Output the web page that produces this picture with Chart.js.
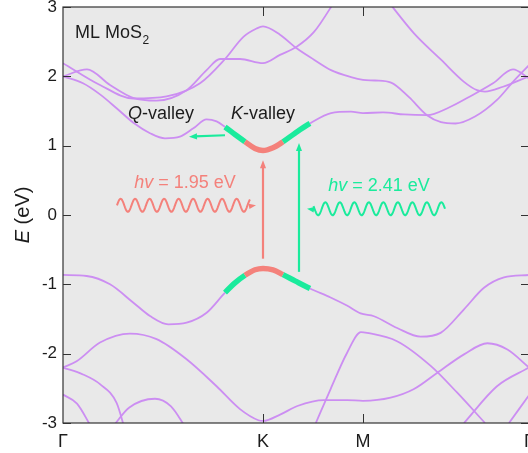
<!DOCTYPE html>
<html>
<head>
<meta charset="utf-8">
<script src="https://cdn.jsdelivr.net/npm/chart.js@4.4.0/dist/chart.umd.min.js"></script>
<style>
  html, body { margin: 0; padding: 0; background: #fff; overflow: hidden; }
  #wrap { width: 536px; height: 453px; }
</style>
</head>
<body>
<div id="wrap"><canvas id="bands" width="536" height="453"></canvas></div>
<script>
// high-symmetry path (k in units of |ΓK|)
const kNodes = [0, 1, 1.5, 2.33];
const kNames = ['Γ', 'K', 'M', 'Γ'];

// conduction bands, [k, E (eV)]
const cb1 = [[0,2.0],[0.1,1.90],[0.185,1.74],[0.268,1.54],[0.352,1.33],[0.435,1.18],[0.51,1.106],[0.585,1.13],[0.652,1.25],[0.718,1.38],[0.768,1.35],[0.81,1.27],[0.86,1.16],[0.91,1.057],[0.96,0.96],[1.0,0.93],[1.05,0.97],[1.10,1.057],[1.16,1.18],[1.235,1.32],[1.34,1.47],[1.44,1.49],[1.5,1.47],[1.6,1.48],[1.705,1.45],[1.82,1.44],[1.93,1.55],[2.035,1.71],[2.15,1.90],[2.25,2.10],[2.33,1.97]];
const cb2 = [[0,2.0],[0.12,2.10],[0.235,1.875],[0.35,1.69],[0.468,1.65],[0.618,1.80],[0.718,2.09],[0.785,2.25],[0.885,2.25],[1.0,2.19],[1.085,2.31],[1.17,2.43],[1.255,2.64],[1.34,3.0],[1.38,3.2]];
const cb3 = [[0,2.19],[0.185,1.875],[0.352,1.68],[0.518,1.71],[0.685,1.90],[0.81,2.25],[0.902,2.57],[0.968,2.69],[1.0,2.72],[1.085,2.60],[1.17,2.40],[1.255,2.24],[1.34,2.09],[1.44,1.99],[1.5,1.95],[1.56,1.94],[1.64,1.91],[1.73,1.70],[1.82,1.44],[1.89,1.34],[1.963,1.32],[2.06,1.42],[2.17,1.66],[2.25,1.92],[2.33,2.16]];
const cb4 = [[1.62,3.1],[1.755,2.62],[1.89,2.24],[2.005,1.92],[2.07,1.80],[2.11,1.78],[2.2,1.85],[2.33,2.0]];

// valence bands, [k, E (eV)]
const vb1 = [[0,-0.865],[0.118,-0.88],[0.235,-1.0],[0.352,-1.265],[0.435,-1.457],[0.527,-1.577],[0.618,-1.553],[0.718,-1.41],[0.81,-1.12],[0.86,-0.98],[0.91,-0.87],[0.96,-0.79],[1.0,-0.77],[1.05,-0.79],[1.10,-0.86],[1.16,-0.95],[1.235,-1.06],[1.338,-1.19],[1.422,-1.31],[1.488,-1.42],[1.555,-1.46],[1.671,-1.63],[1.788,-1.755],[1.888,-1.70],[2.005,-1.36],[2.105,-1.05],[2.205,-0.90],[2.33,-0.865]];
const vb2 = [[0,-2.20],[0.068,-2.11],[0.185,-1.84],[0.335,-1.71],[0.468,-1.79],[0.618,-2.08],[0.768,-2.47],[0.885,-2.80],[0.977,-2.96],[1.0,-2.97],[1.088,-2.875],[1.172,-2.755],[1.305,-2.67],[1.42,-2.67],[1.5,-2.68],[1.638,-2.635],[1.755,-2.51],[1.872,-2.275],[2.005,-2.01],[2.122,-1.85],[2.222,-1.94],[2.33,-2.20]];
const vb3 = [[0,-2.20],[0.1,-2.30],[0.185,-2.44],[0.268,-2.71],[0.31,-3.1]];
const vb4 = [[0,-2.59],[0.07,-2.72],[0.14,-3.05]];
const vb5 = [[0.25,-3.05],[0.33,-2.78],[0.46,-2.65],[0.54,-2.76],[0.61,-3.05]];
const vb6 = [[1.264,-3.0],[1.338,-2.51],[1.42,-1.99],[1.49,-1.69],[1.52,-1.70],[1.67,-1.82],[1.84,-2.18],[1.97,-2.56],[2.11,-3.0]];
const vb7 = [[2.005,-3.0],[2.17,-2.47],[2.33,-2.20]];
const vb8 = [[2.23,-3.0],[2.33,-2.6]];

// k-ranges highlighted around the K valley
const outerLeft = [0.81, 0.91];
const valleyCore = [0.91, 1.10];
const outerRight = [1.10, 1.235];

// photon energies (eV) and optical transitions at / near K
const photonEnergies = [1.95, 2.41];
const pumpArrows = [
  { k: 1.0, from: -0.63, to: 0.79 },
  { k: 1.18, from: -0.82, to: 1.04 }
];
const scatterArrow = { from: [0.81, 1.15], to: [0.63, 1.13] };

const purple = '#cc8ef2';
const salmon = '#f4817b';
const mint = '#1aeb9c';
const ink = '#1c1c1c';
const fontFamily = '"Liberation Sans", Arial, sans-serif';

Chart.defaults.font.family = fontFamily;

const toXY = band => band.map(([k, e]) => ({ x: k, y: e }));
const inside = (k, [k0, k1]) => k >= k0 - 1e-9 && k <= k1 + 1e-9;

// colour of the segment starting at k0 and ending at k1 (null = plain band)
function valleyColor(k0, k1) {
  if (inside(k0, outerLeft) && inside(k1, outerLeft)) return mint;
  if (inside(k0, valleyCore) && inside(k1, valleyCore)) return salmon;
  if (inside(k0, outerRight) && inside(k1, outerRight)) return mint;
  return null;
}

const bandLine = (band, marked) => ({
  data: toXY(band),
  borderColor: purple,
  borderWidth: 1.8,
  borderCapStyle: 'butt',
  cubicInterpolationMode: 'monotone',
  pointRadius: 0,
  segment: marked ? {
    borderColor: c => valleyColor(c.p0.parsed.x, c.p1.parsed.x) || purple,
    borderWidth: c => valleyColor(c.p0.parsed.x, c.p1.parsed.x) ? 5.5 : 1.8
  } : undefined
});

const datasets = [
  bandLine(cb2), bandLine(cb3), bandLine(cb4),
  bandLine(vb2), bandLine(vb3), bandLine(vb4), bandLine(vb5), bandLine(vb6), bandLine(vb7), bandLine(vb8),
  bandLine(cb1, true), bandLine(vb1, true)
];

function arrow(ctx, x0, y0, x1, y1, color, lw, head) {
  const a = Math.atan2(y1 - y0, x1 - x0);
  const c = Math.cos(a), s = Math.sin(a);
  ctx.strokeStyle = color;
  ctx.fillStyle = color;
  ctx.lineWidth = lw;
  ctx.beginPath();
  ctx.moveTo(x0, y0);
  ctx.lineTo(x1 - c * head * 0.7, y1 - s * head * 0.7);
  ctx.stroke();
  ctx.beginPath();
  ctx.moveTo(x1, y1);
  ctx.lineTo(x1 - head * c + head * 0.38 * s, y1 - head * s - head * 0.38 * c);
  ctx.lineTo(x1 - head * c - head * 0.38 * s, y1 - head * s + head * 0.38 * c);
  ctx.closePath();
  ctx.fill();
}

// wavy photon line from xa to xb, head at the xb end
function photon(ctx, xa, xb, yc, color) {
  const dir = Math.sign(xb - xa);
  const len = Math.abs(xb - xa);
  const period = 14.5, amp = 6.5;
  ctx.strokeStyle = color;
  ctx.lineWidth = 2;
  ctx.beginPath();
  for (let t = 0; t <= len - 6; t += 0.5) {
    const px = xa + dir * t;
    const py = yc - amp * Math.sin(t / period * 2 * Math.PI);
    if (t === 0) ctx.moveTo(px, py); else ctx.lineTo(px, py);
  }
  ctx.stroke();
  arrow(ctx, xb - dir * 7, yc + 1, xb, yc, color, 2, 7);
}

function mixedText(ctx, parts, x, y, size, color) {
  ctx.fillStyle = color;
  ctx.textBaseline = 'middle';
  ctx.textAlign = 'left';
  let cx = x;
  parts.forEach(([txt, italic]) => {
    ctx.font = (italic ? 'italic ' : '') + size + 'px ' + fontFamily;
    ctx.fillText(txt, cx, y);
    cx += ctx.measureText(txt).width;
  });
  return cx;
}

function widthOf(ctx, parts, size) {
  let w = 0;
  parts.forEach(([txt, italic]) => {
    ctx.font = (italic ? 'italic ' : '') + size + 'px ' + fontFamily;
    w += ctx.measureText(txt).width;
  });
  return w;
}

const decor = {
  id: 'decor',
  beforeDraw(chart) {
    const { ctx, chartArea: a } = chart;
    ctx.save();
    ctx.fillStyle = '#e9e9e9';
    ctx.fillRect(a.left, a.top, a.right - a.left, a.bottom - a.top);
    ctx.restore();
  },
  afterDatasetsDraw(chart) {
    const { ctx, chartArea: a, scales: { x, y } } = chart;
    ctx.save();

    // frame with inward ticks
    ctx.strokeStyle = '#333';
    ctx.lineWidth = 1.2;
    ctx.strokeRect(a.left, a.top, a.right - a.left, a.bottom - a.top);
    ctx.lineWidth = 1;
    ctx.beginPath();
    for (let e = -3; e <= 3; e++) {
      const py = Math.round(y.getPixelForValue(e)) + 0.5;
      ctx.moveTo(a.left, py); ctx.lineTo(a.left + 8, py);
      ctx.moveTo(a.right, py); ctx.lineTo(a.right - 8, py);
    }
    kNodes.slice(1, 3).forEach(k => {
      const px = Math.round(x.getPixelForValue(k)) + 0.5;
      ctx.moveTo(px, a.bottom); ctx.lineTo(px, a.bottom - 9);
      ctx.moveTo(px, a.top); ctx.lineTo(px, a.top + 9);
    });
    ctx.stroke();

    // vertical pump arrows
    arrow(ctx, x.getPixelForValue(pumpArrows[0].k), y.getPixelForValue(pumpArrows[0].from),
      x.getPixelForValue(pumpArrows[0].k), y.getPixelForValue(pumpArrows[0].to), salmon, 2.2, 8);
    arrow(ctx, x.getPixelForValue(pumpArrows[1].k), y.getPixelForValue(pumpArrows[1].from),
      x.getPixelForValue(pumpArrows[1].k), y.getPixelForValue(pumpArrows[1].to), mint, 2.2, 8);

    // intervalley scattering K -> Q
    arrow(ctx, x.getPixelForValue(scatterArrow.from[0]), y.getPixelForValue(scatterArrow.from[1]),
      x.getPixelForValue(scatterArrow.to[0]), y.getPixelForValue(scatterArrow.to[1]), mint, 2.2, 8);

    // incoming photons
    photon(ctx, x.getPixelForValue(0.27), x.getPixelForValue(0.965), y.getPixelForValue(0.14), salmon);
    photon(ctx, x.getPixelForValue(1.91), x.getPixelForValue(1.22), y.getPixelForValue(0.09), mint);

    const lblRed = [['hv', true], [' = ' + photonEnergies[0].toFixed(2) + ' eV', false]];
    const lblGreen = [['hv', true], [' = ' + photonEnergies[1].toFixed(2) + ' eV', false]];
    mixedText(ctx, lblRed, x.getPixelForValue(0.61) - widthOf(ctx, lblRed, 18) / 2, y.getPixelForValue(0.46), 18, salmon);
    mixedText(ctx, lblGreen, x.getPixelForValue(1.58) - widthOf(ctx, lblGreen, 18) / 2, y.getPixelForValue(0.42), 18, mint);

    // valley labels
    mixedText(ctx, [['Q', true], ['-valley', false]], x.getPixelForValue(0.325), y.getPixelForValue(1.46), 18, ink);
    mixedText(ctx, [['K', true], ['-valley', false]], x.getPixelForValue(0.84), y.getPixelForValue(1.46), 18, ink);

    // sample label
    const end = mixedText(ctx, [['ML MoS', false]], a.left + 12, a.top + 26, 18, ink);
    ctx.font = '12px ' + fontFamily;
    ctx.fillText('2', end + 0.5, a.top + 34);

    // y-axis title
    ctx.translate(23, (a.top + a.bottom) / 2);
    ctx.rotate(-Math.PI / 2);
    const ttl = [['E', true], [' (eV)', false]];
    mixedText(ctx, ttl, -widthOf(ctx, ttl, 20) / 2, 0, 20, ink);
    ctx.restore();
  }
};

new Chart(document.getElementById('bands'), {
  type: 'line',
  data: { datasets },
  options: {
    responsive: false,
    animation: false,
    devicePixelRatio: 1,
    layout: { padding: { top: 7, right: 7, left: 0, bottom: 0 } },
    plugins: { legend: { display: false }, tooltip: { enabled: false } },
    scales: {
      x: {
        type: 'linear',
        min: kNodes[0],
        max: kNodes[kNodes.length - 1],
        afterBuildTicks: s => { s.ticks = kNodes.map(v => ({ value: v })); },
        afterFit: s => { s.height = 30; s.paddingLeft = 0; s.paddingRight = 0; },
        grid: { display: false, drawTicks: false },
        border: { display: false },
        ticks: {
          autoSkip: false, maxRotation: 0, padding: 8, color: ink,
          font: { size: 18 },
          callback: (v, i) => kNames[i]
        }
      },
      y: {
        min: -3,
        max: 3,
        afterFit: s => { s.width = 63; s.paddingTop = 0; s.paddingBottom = 0; },
        grid: { display: false, drawTicks: false },
        border: { display: false },
        ticks: { stepSize: 1, padding: 6, color: ink, font: { size: 17 } }
      }
    }
  },
  plugins: [decor]
});
</script>
</body>
</html>
